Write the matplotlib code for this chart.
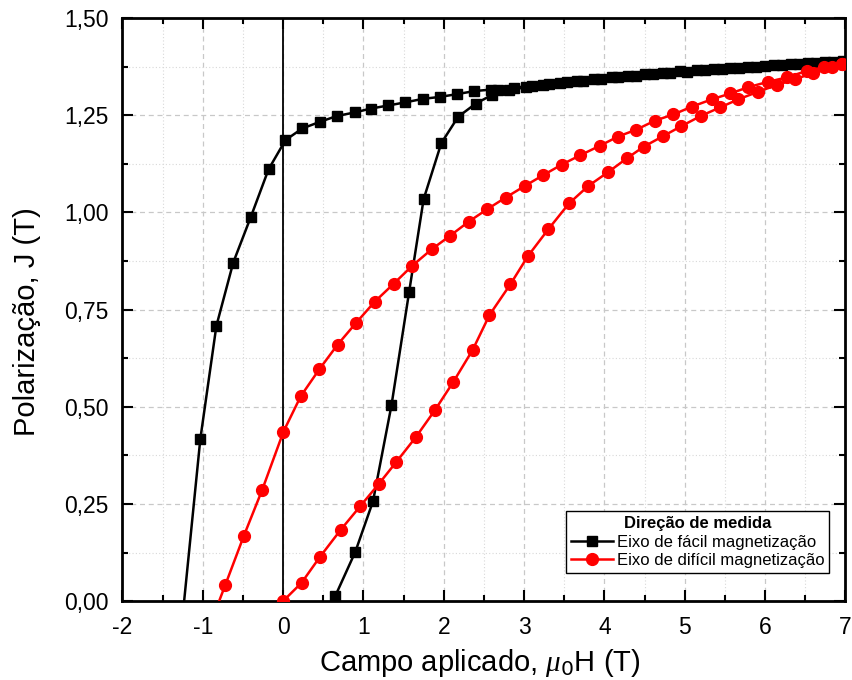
import numpy as np
import matplotlib.pyplot as plt
from matplotlib.ticker import MultipleLocator, FuncFormatter

plt.rcParams['font.family'] = ['Liberation Sans', 'DejaVu Sans']
plt.rcParams['mathtext.fontset'] = 'custom'
plt.rcParams['mathtext.it'] = 'Liberation Serif:italic'

# Eixo de fácil magnetização: curva de subida e depois curva de desmagnetização
facil_sobe_x = [0.65, 0.90, 1.12, 1.35, 1.57, 1.75, 1.97, 2.18, 2.40, 2.60, 2.81, 3.02,
                3.23, 3.45, 3.66, 3.87, 4.09, 4.30, 4.51, 4.73, 4.94, 5.15, 5.36, 5.57,
                5.79, 6.00, 6.21, 6.42, 6.64, 6.85, 6.97]
facil_sobe_y = [0.013, 0.127, 0.257, 0.504, 0.796, 1.034, 1.178, 1.246, 1.280, 1.302, 1.314, 1.322,
                1.328, 1.334, 1.339, 1.344, 1.348, 1.352, 1.356, 1.359, 1.363, 1.366, 1.369, 1.372,
                1.374, 1.377, 1.380, 1.382, 1.385, 1.387, 1.388]
facil_desce_x = [6.97, 6.75, 6.54, 6.32, 6.11, 5.89, 5.68, 5.46, 5.25, 5.03, 4.82, 4.60,
                 4.39, 4.17, 3.96, 3.74, 3.53, 3.31, 3.10, 2.88, 2.67, 2.59, 2.38, 2.16,
                 1.95, 1.74, 1.52, 1.31, 1.09, 0.89, 0.67, 0.46, 0.24, 0.03,
                 -0.18, -0.40, -0.62, -0.83, -1.03, -1.28]
facil_desce_y = [1.390, 1.388, 1.385, 1.382, 1.378, 1.375, 1.372, 1.369, 1.366, 1.362, 1.359, 1.355,
                 1.351, 1.347, 1.343, 1.339, 1.335, 1.330, 1.326, 1.321, 1.316, 1.316, 1.312, 1.304,
                 1.297, 1.292, 1.283, 1.275, 1.267, 1.257, 1.248, 1.233, 1.216, 1.186,
                 1.111, 0.989, 0.871, 0.708, 0.417, -0.10]

# Eixo de difícil magnetização
dificil_sobe_x = [0.00, 0.23, 0.46, 0.72, 0.96, 1.19, 1.41, 1.65, 1.89, 2.12, 2.36, 2.57,
                  2.83, 3.05, 3.30, 3.56, 3.80, 4.05, 4.28, 4.49, 4.73, 4.96, 5.20, 5.44,
                  5.67, 5.91, 6.15, 6.37, 6.60, 6.83, 6.96]
dificil_sobe_y = [0.000, 0.047, 0.114, 0.184, 0.244, 0.301, 0.358, 0.421, 0.491, 0.564, 0.646, 0.736,
                  0.815, 0.888, 0.956, 1.023, 1.068, 1.104, 1.139, 1.169, 1.196, 1.222, 1.248, 1.270,
                  1.291, 1.310, 1.328, 1.342, 1.359, 1.375, 1.383]
dificil_desce_x = [6.96, 6.73, 6.52, 6.27, 6.04, 5.79, 5.57, 5.34, 5.09, 4.86, 4.63, 4.40,
                   4.17, 3.94, 3.70, 3.47, 3.24, 3.01, 2.77, 2.54, 2.31, 2.08, 1.85, 1.61,
                   1.38, 1.14, 0.91, 0.68, 0.45, 0.22, 0.005, -0.26, -0.49, -0.72, -0.87]
dificil_desce_y = [1.383, 1.373, 1.364, 1.347, 1.336, 1.322, 1.306, 1.291, 1.272, 1.252, 1.236, 1.213,
                   1.195, 1.171, 1.147, 1.123, 1.096, 1.068, 1.038, 1.008, 0.976, 0.940, 0.905, 0.863,
                   0.817, 0.770, 0.716, 0.660, 0.596, 0.527, 0.436, 0.286, 0.167, 0.041, -0.04]

facil_x = facil_sobe_x + facil_desce_x
facil_y = facil_sobe_y + facil_desce_y
dificil_x = dificil_sobe_x + dificil_desce_x
dificil_y = dificil_sobe_y + dificil_desce_y

fig = plt.figure(figsize=(8.53, 6.8), dpi=100)
ax = fig.add_axes([0.1435, 0.116, 0.8475, 0.8575])

ax.axvline(0, color='black', lw=1.3, zorder=2)

ax.plot(facil_x, facil_y, color='black', lw=1.8, marker='s', markersize=7,
        label='Eixo de fácil magnetização', zorder=3)
ax.plot(dificil_x, dificil_y, color='red', lw=1.8, marker='o', markersize=8.5,
        label='Eixo de difícil magnetização', zorder=3)

ax.set_xlim(-2, 7)
ax.set_ylim(0, 1.5)
ax.xaxis.set_major_locator(MultipleLocator(1))
ax.xaxis.set_minor_locator(MultipleLocator(0.5))
ax.yaxis.set_major_locator(MultipleLocator(0.25))
ax.yaxis.set_minor_locator(MultipleLocator(0.125))
ax.yaxis.set_major_formatter(FuncFormatter(lambda v, p: f'{v:.2f}'.replace('.', ',')))
ax.xaxis.set_major_formatter(FuncFormatter(lambda v, p: f'{v:.0f}'))

ax.grid(True, which='major', color='#c8c8c8', ls=(0, (4, 3)), lw=0.9)
ax.grid(True, which='minor', color='#d8d8d8', ls=(0, (1, 2)), lw=0.8)
ax.set_axisbelow(True)

ax.tick_params(which='both', direction='in', top=True, right=True, width=1.5)
ax.tick_params(which='major', length=8, labelsize=16.5)
ax.tick_params(axis='x', which='major', pad=11)
ax.tick_params(axis='y', which='major', pad=10)
ax.tick_params(which='minor', length=4.5)
for s in ax.spines.values():
    s.set_linewidth(2)

ax.set_xlabel(r'Campo aplicado, $\mu_{\mathit{0}}$H (T)', fontsize=21)
ax.set_ylabel('Polarização, J (T)', fontsize=21)
ax.xaxis.set_label_coords(0.495, -0.078)
ax.yaxis.set_label_coords(-0.112, 0.48)

leg = ax.legend(loc='lower right', bbox_to_anchor=(0.978, 0.048), fontsize=12,
                title='Direção de medida', title_fontproperties={'weight': 'bold', 'size': 12},
                frameon=True, fancybox=False, edgecolor='black', framealpha=1,
                handlelength=2.5, handletextpad=0.25, borderpad=0.3, labelspacing=0.2,
                borderaxespad=0)
leg.get_frame().set_linewidth(1)

fig.savefig('out.png', dpi=100)
